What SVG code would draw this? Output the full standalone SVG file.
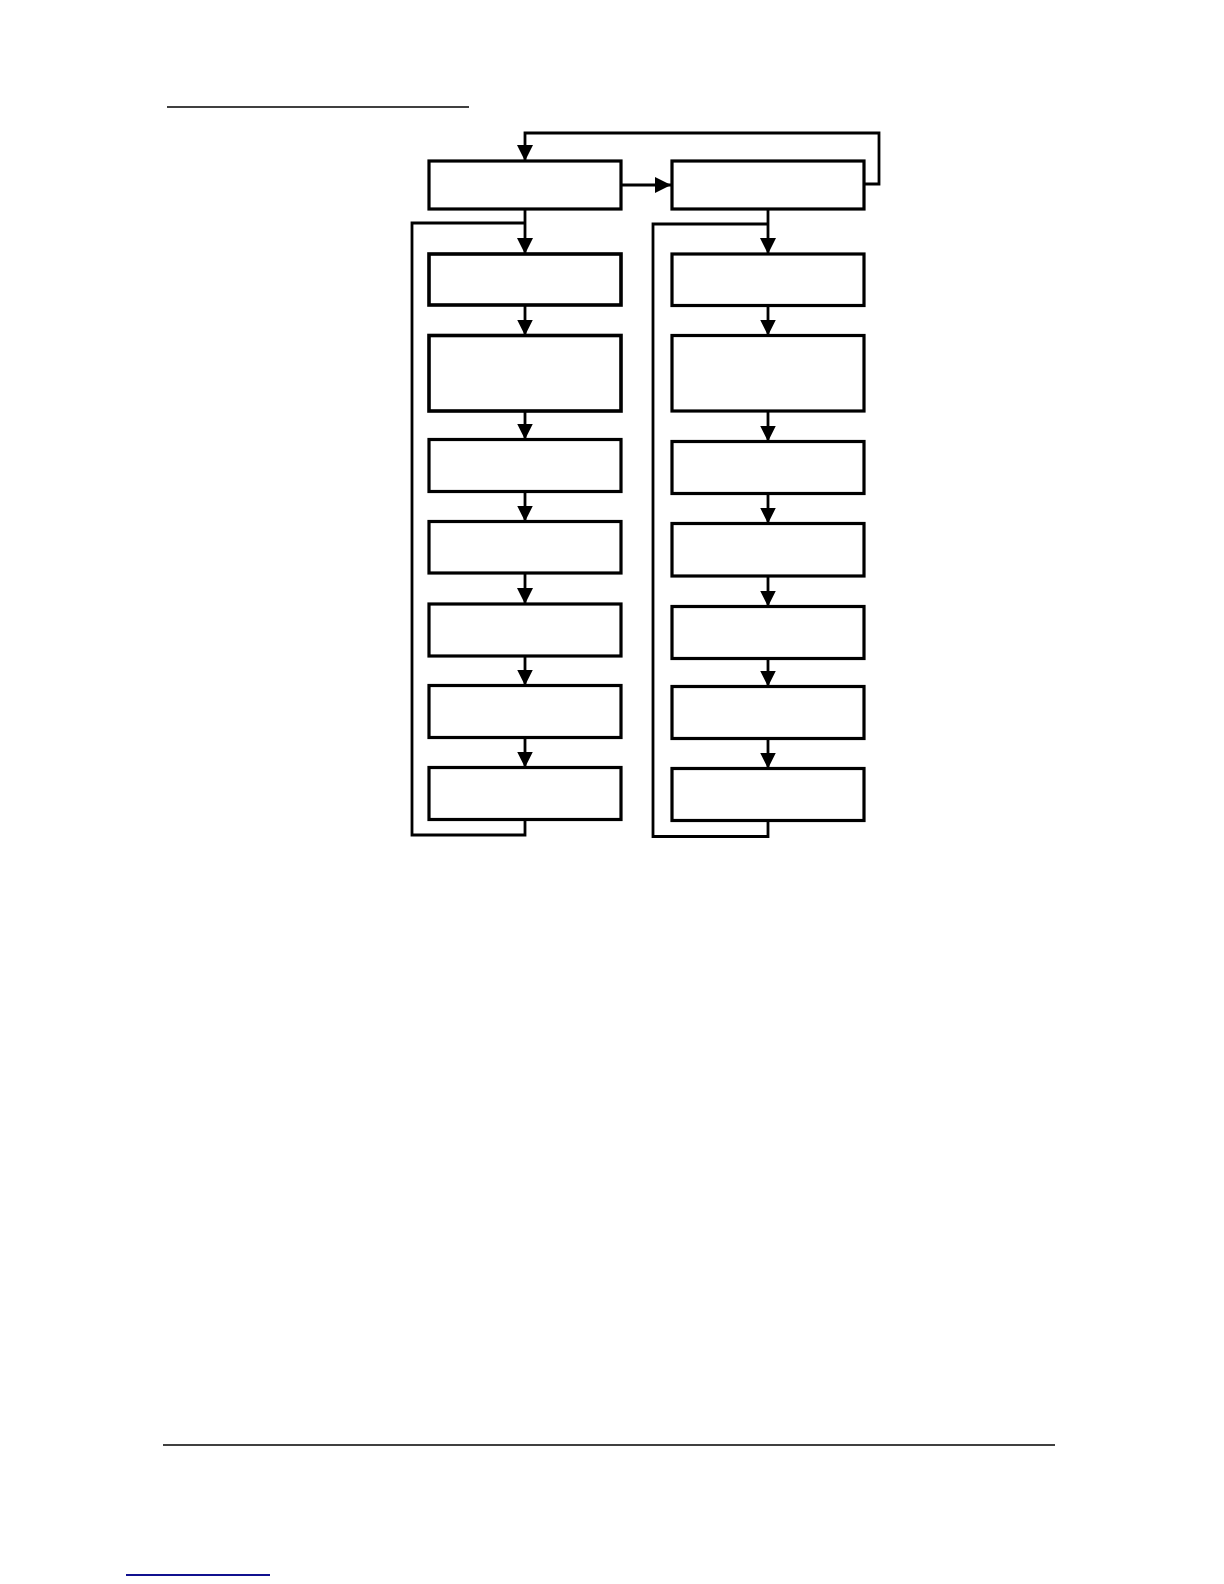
<svg xmlns="http://www.w3.org/2000/svg" width="1224" height="1584" viewBox="0 0 1224 1584">
<defs>
<style>
.box{fill:#fff;stroke:#000;stroke-width:3.2}
.thick{stroke-width:3.6}
.con{fill:none;stroke:#000;stroke-width:2.8}
.rule{stroke:#000;stroke-width:1.5}
</style>
<marker id="ah" markerUnits="userSpaceOnUse" markerWidth="18" markerHeight="18" viewBox="0 0 18 18" refX="16" refY="9" orient="auto">
<path d="M0,1 L16,9 L0,17 Z" fill="#000"/>
</marker>
</defs>
<rect width="1224" height="1584" fill="#fff"/>
<line class="rule" x1="167" y1="107" x2="469" y2="107"/>
<line class="rule" x1="163" y1="1445" x2="1055" y2="1445"/>
<line x1="126" y1="1575" x2="270" y2="1575" stroke="#10108f" stroke-width="1.8"/>
<g id="connectors">
<path class="con" d="M864,184 H879 V133 H525 V161" marker-end="url(#ah)"/>
<path class="con" d="M621,185 H671" marker-end="url(#ah)"/>
<path class="con" d="M525,209 V254" marker-end="url(#ah)"/>
<path class="con" d="M525,820 V835 H412 V223 H525"/>
<path class="con" d="M525,305 V335.5" marker-end="url(#ah)"/>
<path class="con" d="M525,411 V439.5" marker-end="url(#ah)"/>
<path class="con" d="M525,491.5 V521.5" marker-end="url(#ah)"/>
<path class="con" d="M525,573 V604" marker-end="url(#ah)"/>
<path class="con" d="M525,656 V685.5" marker-end="url(#ah)"/>
<path class="con" d="M525,737.5 V767.5" marker-end="url(#ah)"/>
<path class="con" d="M768,209 V254" marker-end="url(#ah)"/>
<path class="con" d="M768,820.5 V836.5 H653 V224 H768"/>
<path class="con" d="M768,305.5 V335.5" marker-end="url(#ah)"/>
<path class="con" d="M768,411 V441.5" marker-end="url(#ah)"/>
<path class="con" d="M768,493.5 V523.5" marker-end="url(#ah)"/>
<path class="con" d="M768,576 V606.5" marker-end="url(#ah)"/>
<path class="con" d="M768,658.5 V686.5" marker-end="url(#ah)"/>
<path class="con" d="M768,738.5 V768.5" marker-end="url(#ah)"/>
</g>
<g id="L1"><rect class="box" x="429" y="161" width="192" height="48"/></g>
<g id="L2"><rect class="box thick" x="429" y="254" width="192" height="51"/></g>
<g id="L3"><rect class="box thick" x="429" y="335.5" width="192" height="75.5"/></g>
<g id="L4"><rect class="box" x="429" y="439.5" width="192" height="52"/></g>
<g id="L5"><rect class="box" x="429" y="521.5" width="192" height="51.5"/></g>
<g id="L6"><rect class="box" x="429" y="604" width="192" height="52"/></g>
<g id="L7"><rect class="box" x="429" y="685.5" width="192" height="52"/></g>
<g id="L8"><rect class="box" x="429" y="767.5" width="192" height="52"/></g>
<g id="R1"><rect class="box" x="672" y="161" width="192" height="48"/></g>
<g id="R2"><rect class="box" x="672" y="254" width="192" height="51.5"/></g>
<g id="R3"><rect class="box" x="672" y="335.5" width="192" height="75.5"/></g>
<g id="R4"><rect class="box" x="672" y="441.5" width="192" height="52"/></g>
<g id="R5"><rect class="box" x="672" y="523.5" width="192" height="52.5"/></g>
<g id="R6"><rect class="box" x="672" y="606.5" width="192" height="52"/></g>
<g id="R7"><rect class="box" x="672" y="686.5" width="192" height="52"/></g>
<g id="R8"><rect class="box" x="672" y="768.5" width="192" height="52"/></g>
</svg>
